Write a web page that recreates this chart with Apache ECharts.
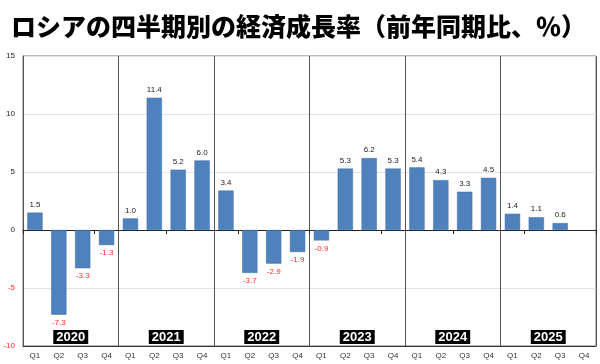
<!DOCTYPE html>
<html><head><meta charset="utf-8">
<script src="https://cdn.jsdelivr.net/npm/echarts@6/dist/echarts.min.js"></script>
<style>html,body{margin:0;padding:0;background:#fff}#c{width:600px;height:364px}</style>
</head><body><div id="c"></div>
<script>
const titleText = 'ロシアの四半期別の経済成長率（前年同期比、％）';
const years = ['2020','2021','2022','2023','2024','2025'];
const quarters = ['Q1','Q2','Q3','Q4'];
const categories = years.flatMap(y => quarters.map(q => y + ' ' + q));
const growth = [
  1.5, -7.3, -3.3, -1.3,
  1.0, 11.4, 5.2, 6.0,
  3.4, -3.7, -2.9, -1.9,
  -0.9, 5.3, 6.2, 5.3,
  5.4, 4.3, 3.3, 4.5,
  1.4, 1.1, 0.6, null
];
const yTicks = [15, 10, 5, 0, -5, -10];

const RED = '#ff2a2a';
const barData = growth.map(v => v == null ? null : ({
  value: v,
  label: {
    position: v >= 0 ? 'top' : 'bottom',
    color: v >= 0 ? '#222' : RED
  }
}));

const chart = echarts.init(document.getElementById('c'), null, {renderer: 'canvas'});
chart.setOption({
  animation: false,
  backgroundColor: '#fff',
  title: {
    text: titleText, left: 6, top: 9,
    textStyle: {fontFamily: 'Noto Sans CJK JP', fontWeight: 900, fontSize: 25, color: '#000'}
  },
  grid: {left: 23, right: 4, top: 56, bottom: 18, show: true, borderColor: '#777', borderWidth: 1},
  xAxis: [
    { type: 'category', data: categories, position: 'bottom',
      axisLine: {onZero: false, lineStyle: {color: '#333'}}, axisTick: {show: false},
      axisLabel: {formatter: v => v.split(' ')[1], fontSize: 8, color: '#333', margin: 6, fontFamily: 'Liberation Sans'},
      splitLine: {show: false}
    },
    { type: 'category', data: categories, position: 'top',
      axisLine: {onZero: true, lineStyle: {color: '#222'}},
      axisTick: {show: true, length: 4, inside: true, lineStyle: {color: '#222'}},
      axisLabel: {show: false},
      splitLine: {show: true, interval: (i) => i % 4 === 0 && i > 0, lineStyle: {color: '#555', width: 1}}
    },
    { type: 'category', data: years, position: 'bottom',
      axisLine: {show: false}, axisTick: {show: false},
      axisLabel: {inside: true, margin: 2, color: '#fff', backgroundColor: '#000', fontWeight: 'bold',
        fontSize: 13, padding: [1, 3, 0, 3], fontFamily: 'Liberation Sans'}
    }
  ],
  yAxis: {
    type: 'value', min: -10, max: 15, interval: 5,
    axisLine: {show: true, lineStyle: {color: '#555'}},
    axisTick: {show: false},
    axisLabel: {fontSize: 8, margin: 8, fontFamily: 'Liberation Sans',
      color: v => (v < 0 ? RED : '#222')},
    splitLine: {show: true, lineStyle: {color: '#e4e4e4'}}
  },
  series: [{
    type: 'bar', xAxisIndex: 1, data: barData, barCategoryGap: '36%',
    itemStyle: {color: '#4f81bd', borderColor: '#3f6fa8', borderWidth: 0.5},
    label: {show: true, fontSize: 8, distance: 4, fontFamily: 'Liberation Sans',
      formatter: p => Number(p.value).toFixed(1)}
  }]
});
</script></body></html>
